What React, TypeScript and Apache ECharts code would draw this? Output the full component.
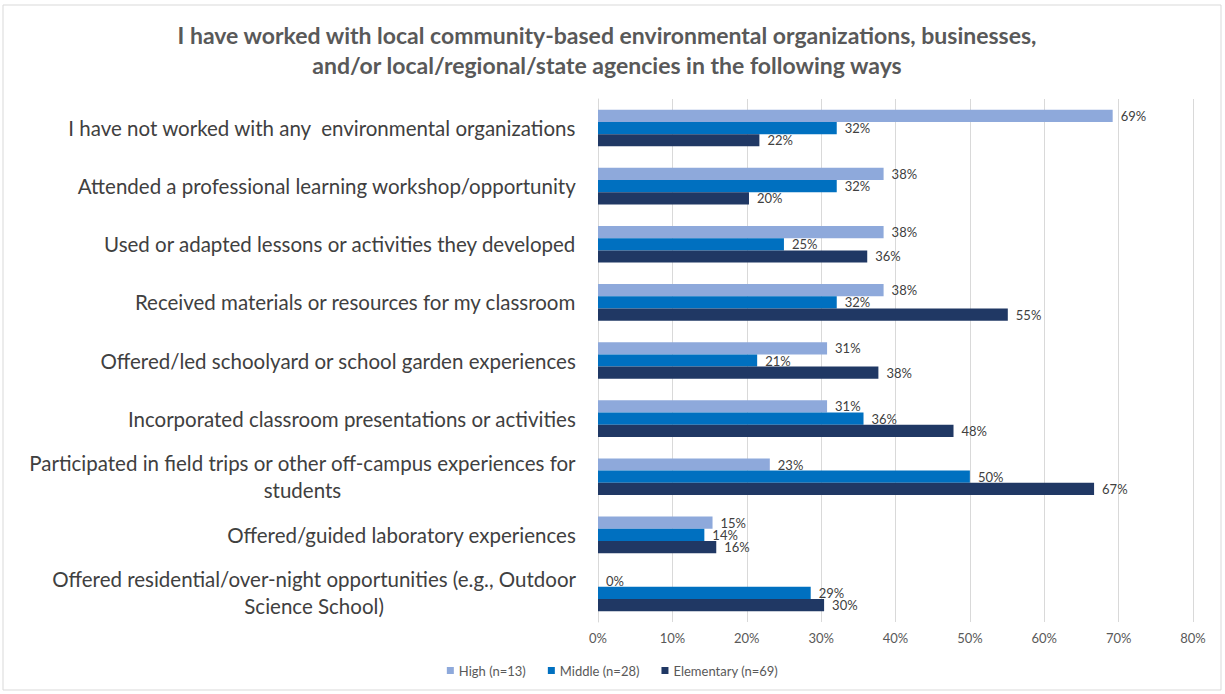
import React, { useEffect, useRef } from "react";
import * as echarts from "echarts";

const titleLines = [
  "I have worked with local community-based environmental organizations, businesses,",
  "and/or local/regional/state agencies in the following ways",
];

const categories = [
  "I have not worked with any  environmental organizations",
  "Attended a professional learning workshop/opportunity",
  "Used or adapted lessons or activities they developed",
  "Received materials or resources for my classroom",
  "Offered/led schoolyard or school garden experiences",
  "Incorporated classroom presentations or activities",
  "Participated in field trips or other off-campus experiences for\nstudents",
  "Offered/guided laboratory experiences",
  "Offered residential/over-night opportunities (e.g., Outdoor\nScience School)",
];

const seriesNames = ["High (n=13)", "Middle (n=28)", "Elementary (n=69)"];
const highValues = [69.2, 38.4, 38.4, 38.4, 30.8, 30.8, 23.1, 15.4, 0];
const middleValues = [32.1, 32.1, 25.0, 32.1, 21.4, 35.7, 50.0, 14.3, 28.6];
const elementaryValues = [21.7, 20.3, 36.2, 55.1, 37.7, 47.8, 66.7, 15.9, 30.4];
const colors = ["#8EA9DB", "#0070C0", "#203864"];

const xTicks = { min: 0, max: 80, interval: 10 };

export default function App() {
  const ref = useRef<HTMLDivElement>(null);
  useEffect(() => {
    if (!ref.current) return;
    const chart = echarts.init(ref.current, null, { renderer: "svg" });
    const valuesList = [highValues, middleValues, elementaryValues];
    chart.setOption({
      animation: false,
      backgroundColor: "#ffffff",
      title: {
        text: titleLines.join("\n"),
        left: 602,
        textAlign: "center",
        top: 15,
        textStyle: {
          fontFamily: "Lato",
          fontWeight: "bold",
          fontSize: 23,
          color: "#595959",
          lineHeight: 30,
        },
      },
      graphic: [
        {
          type: "rect",
          shape: { x: 3, y: 5, width: 1218, height: 685 },
          style: { fill: "none", stroke: "#D9D9D9", lineWidth: 1 },
          silent: true,
        },
      ],
      legend: {
        data: seriesNames,
        bottom: 12,
        left: "center",
        icon: "rect",
        itemWidth: 7,
        itemHeight: 7,
        itemGap: 22,
        textStyle: { fontFamily: "Lato", fontSize: 13, color: "#595959" },
      },
      grid: { left: 598, right: 32, top: 99, bottom: 72 },
      xAxis: {
        type: "value",
        min: xTicks.min,
        max: xTicks.max,
        interval: xTicks.interval,
        axisLabel: {
          formatter: "{value}%",
          fontFamily: "Lato",
          fontSize: 13,
          color: "#595959",
          margin: 9,
        },
        axisLine: { show: false },
        axisTick: { show: false },
        splitLine: { lineStyle: { color: "#D9D9D9" } },
      },
      yAxis: {
        type: "category",
        data: categories,
        inverse: true,
        axisLine: { show: true, lineStyle: { color: "#D9D9D9" } },
        axisTick: { show: false },
        axisLabel: {
          margin: 22,
          align: "right",
          formatter: (v: string) =>
            v
              .split("\n")
              .map((l) => `{c|${l}}`)
              .join("\n"),
          rich: {
            c: {
              align: "center",
              fontFamily: "Lato",
              fontSize: 20.5,
              color: "#404040",
              lineHeight: 27,
            },
          },
        },
      },
      series: seriesNames.map((name, i) => ({
        name,
        type: "bar",
        data: valuesList[i],
        barWidth: 12.2,
        barGap: "0%",
        itemStyle: { color: colors[i] },
        label: {
          show: true,
          position: "right",
          distance: 8,
          formatter: (p: any) => `${Math.round(p.value)}%`,
          fontFamily: "Lato",
          fontSize: 13,
          color: "#404040",
        },
      })),
    });
    return () => chart.dispose();
  }, []);
  return (
    <div
      ref={ref}
      style={{ position: "absolute", left: 0, top: 0, width: 1225, height: 694 }}
    />
  );
}
